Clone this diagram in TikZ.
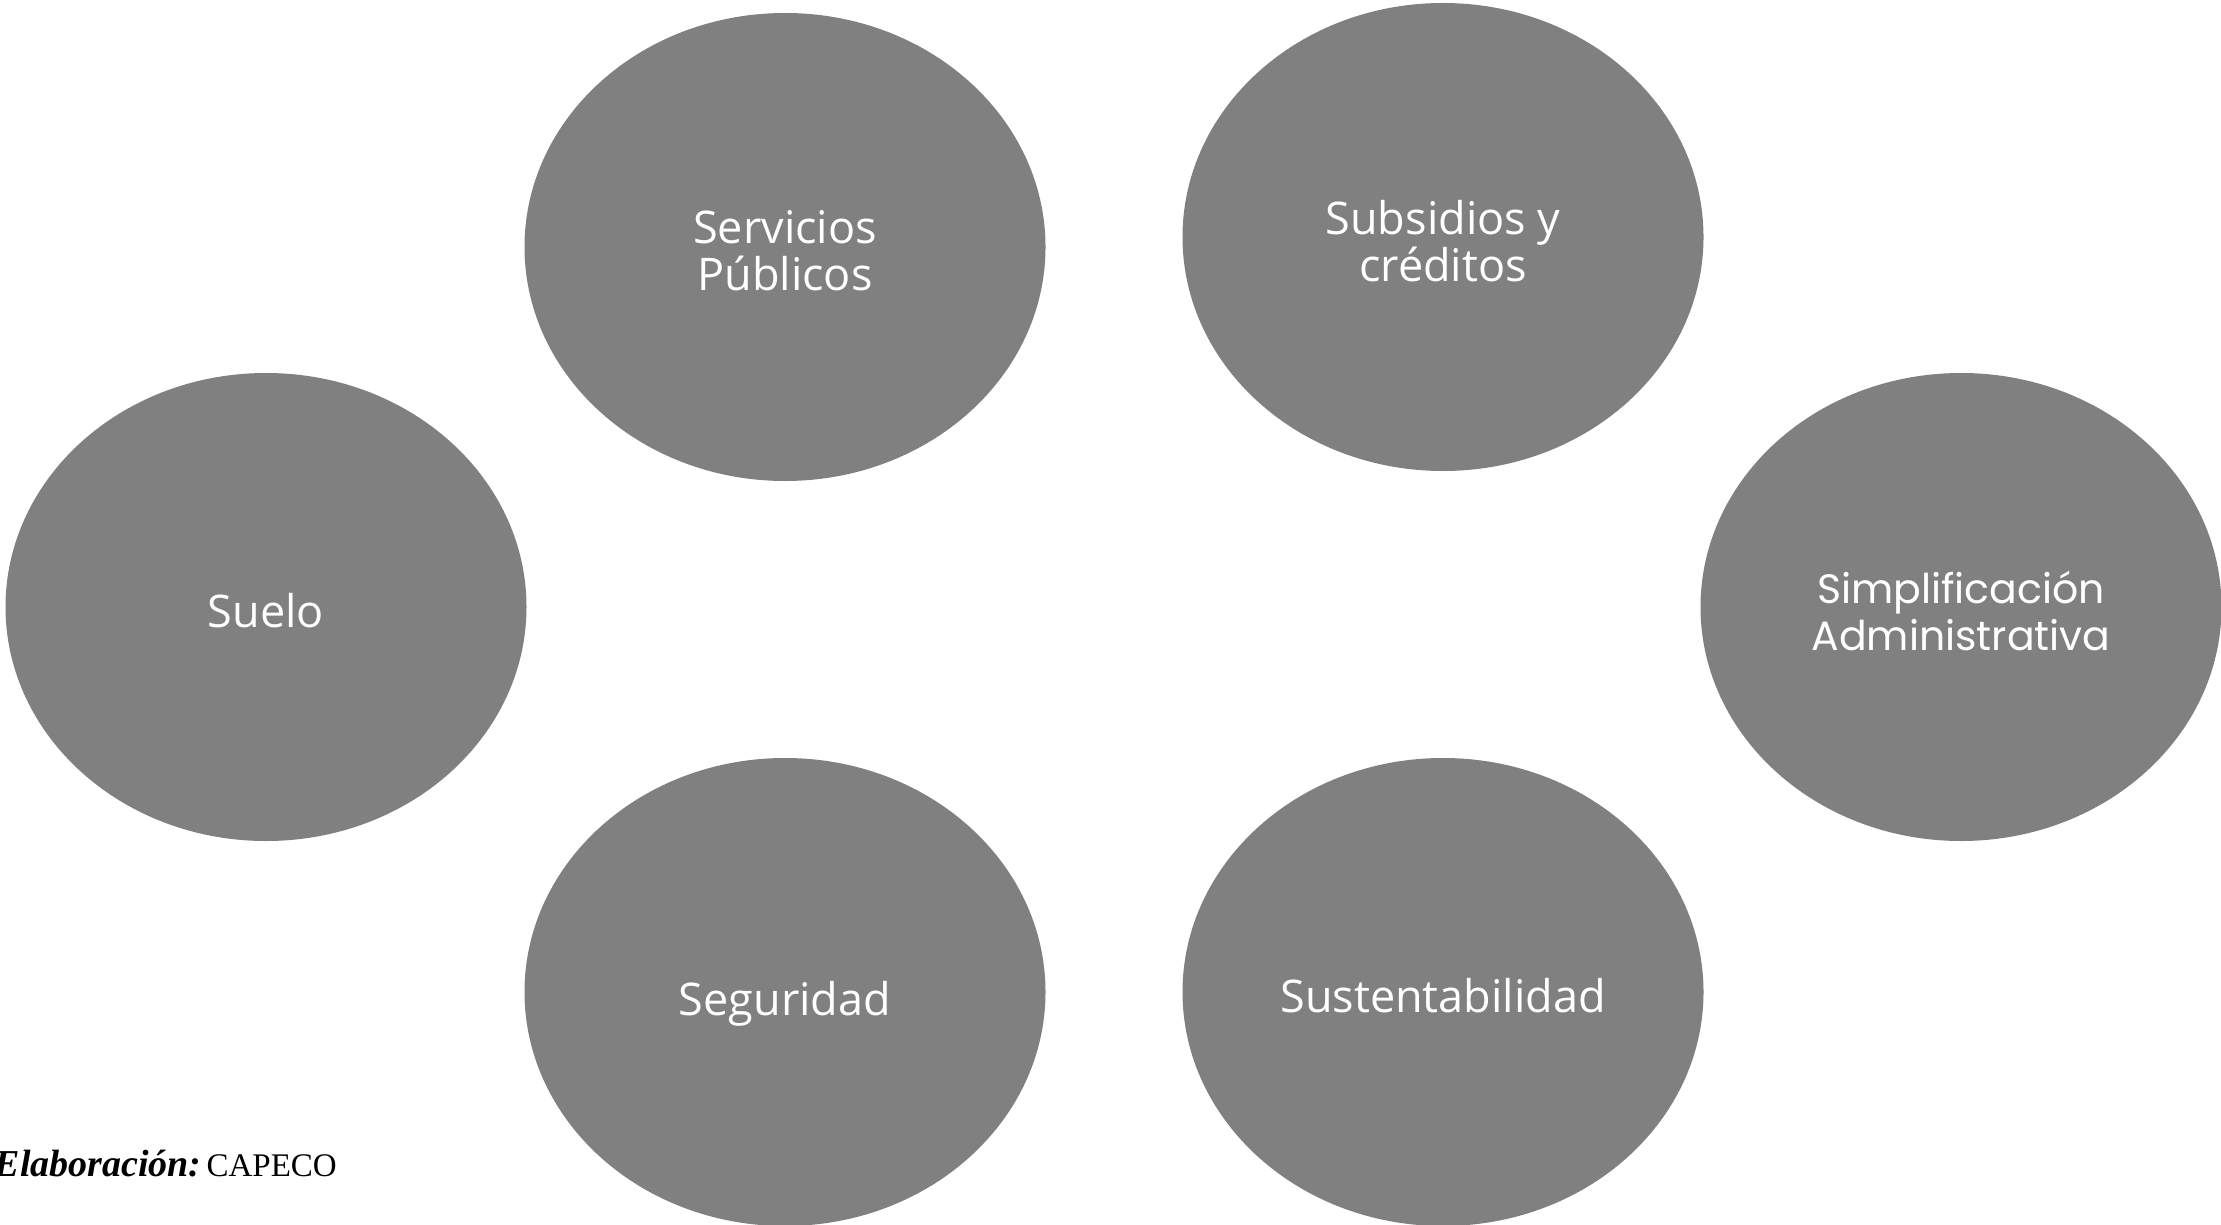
\documentclass[tikz,border=0pt]{standalone}
\usepackage{fontspec}
\setmainfont{Liberation Serif}
\newfontfamily\blobfont{Open Sans}
\newfontfamily\widefont{Poppins}
\usetikzlibrary{shapes.geometric}
\definecolor{blobgrey}{HTML}{808080}
\tikzset{
  blob/.style={ellipse, fill=blobgrey, draw=none, inner sep=0pt,
    minimum width=521pt, minimum height=468pt},
  blobtext/.style={text=white, align=center, inner sep=0pt, yshift=-4pt,
    font=\blobfont\fontsize{45}{47}\selectfont},
  widetext/.style={blobtext, font=\widefont\fontsize{41}{47}\selectfont}
}
\begin{document}
\begin{tikzpicture}[x=1pt,y=-1pt]
\useasboundingbox[fill=white] (0,0) rectangle (2221,1225);
\node[blob] (servicios) at (785,247) {};
\node[blob] (subsidios) at (1443,237) {};
\node[blob] (suelo) at (266,607) {};
\node[blob] (simplif) at (1961,607) {};
\node[blob] (seguridad) at (785,992) {};
\node[blob] (sustent) at (1443,992) {};
\node[blobtext] (servicios-t) at (servicios.center) {Servicios\\Públicos};
\node[blobtext] (subsidios-t) at (subsidios.center) {Subsidios y\\créditos};
\node[blobtext] (suelo-t) at (suelo.center) {Suelo};
\node[widetext] (simplif-t) at (simplif.center) {Simplificación\\Administrativa};
\node[blobtext, yshift=-8pt] (seguridad-t) at (seguridad.center) {Seguridad};
\node[blobtext] (sustent-t) at (sustent.center) {Sustentabilidad};
\node[anchor=base east, inner sep=0pt] (fuente) at (337,1176) {{\fontsize{38}{40}\selectfont\textbf{\textit{Elaboración:}}}\hspace{5pt}{\fontsize{33}{38}\selectfont CAPECO}};
\end{tikzpicture}
\end{document}
